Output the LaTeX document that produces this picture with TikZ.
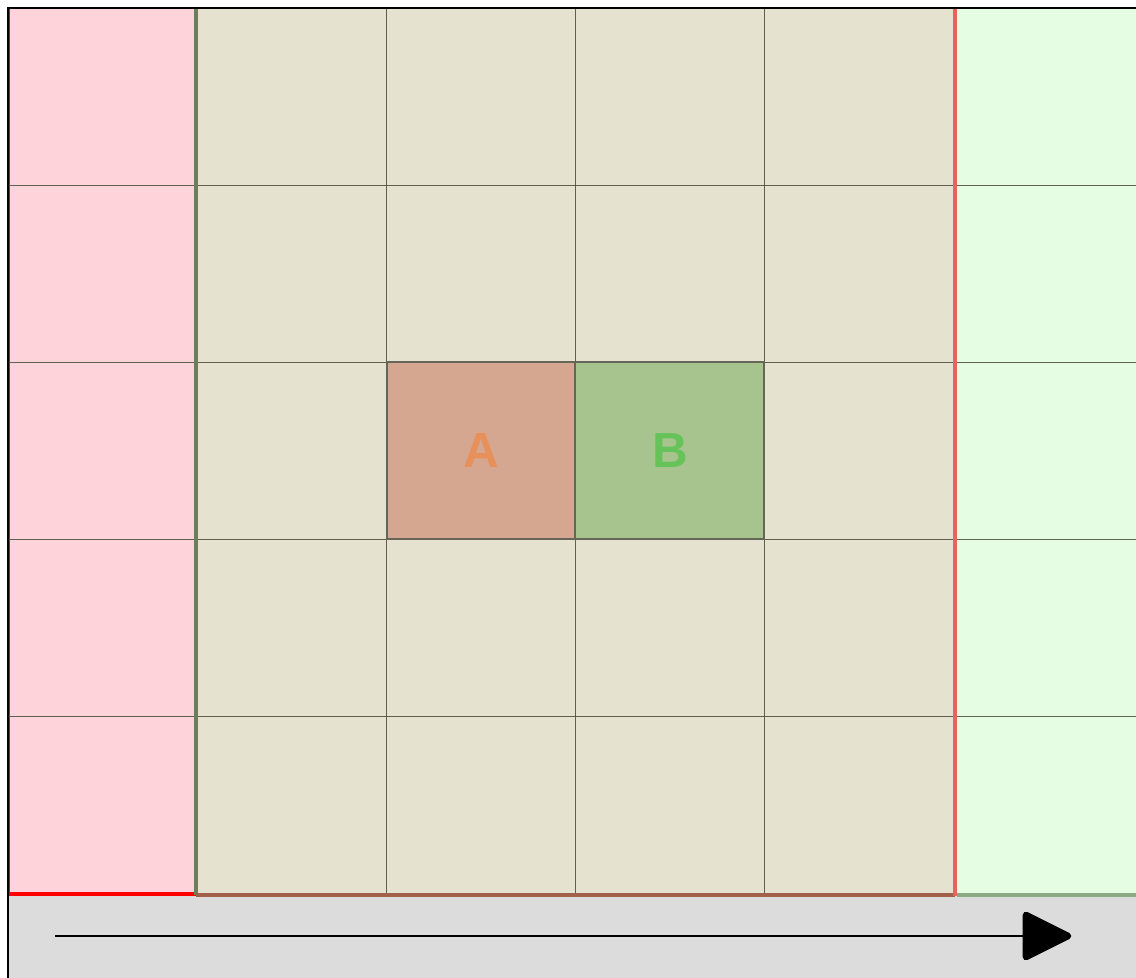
\documentclass[tikz,border=0pt]{standalone}
\usepackage{fontspec}
\setmainfont{Liberation Sans}
\definecolor{pinkbg}{HTML}{FFD3DA}
\definecolor{beigebg}{HTML}{E5E3CF}
\definecolor{greenbg}{HTML}{E5FDE3}
\definecolor{graybg}{HTML}{DCDCDC}
\definecolor{cellA}{HTML}{D5A690}
\definecolor{cellB}{HTML}{A8C48E}
\definecolor{txtA}{HTML}{E8905A}
\definecolor{txtB}{HTML}{66C35A}
\definecolor{gridc}{HTML}{4A4A3A}
\definecolor{borderred}{HTML}{E8645A}
\definecolor{bordergreen}{HTML}{6B7F5A}
\definecolor{borderbrown}{HTML}{A0604A}
\definecolor{bottomgreen}{HTML}{8CAA84}
\tikzset{
  gridline/.style={draw=gridc, line width=0.75pt, draw opacity=0.85},
  cellbox/.style={draw=gridc!85!white, line width=1.8pt},
  letter/.style={font=\bfseries\fontsize{37}{37}\selectfont},
}
\begin{document}
\begin{tikzpicture}[x=0.75pt,y=-0.75pt]
\useasboundingbox (0,0) rectangle (1136,978);
\fill[white] (0,0) rectangle (1136,978);
% regions
\fill[pinkbg] (8,8) rectangle (196,894);
\fill[beigebg] (196,8) rectangle (955,894);
\fill[greenbg] (955,8) rectangle (1136,894);
\fill[graybg] (8,896) rectangle (1136,978);
% cells A and B
\fill[cellA] (387,362) rectangle (575,539);
\fill[cellB] (575,362) rectangle (764,539);
% grid lines
\foreach \y in {185,362,539,716} \draw[gridline] (8,\y) -- (1136,\y);
\foreach \x in {386,575,764} \draw[gridline] (\x,8) -- (\x,894);
% cell borders
\draw[cellbox] (387,362) rectangle (575,539);
\draw[cellbox] (575,362) rectangle (764,539);
\node[letter, text=txtA] (A) at (481,451) {A};
\node[letter, text=txtB] (B) at (670,451) {B};
% region borders
\draw[red, line width=1.2pt] (9.5,9) -- (9.5,894);
\draw[red, line width=2.4pt] (8,894) -- (196,894);
\draw[bordergreen, line width=2.5pt] (196,8) -- (196,895);
\draw[borderbrown, line width=2.5pt] (196,895) -- (955,895);
\draw[borderred, line width=3pt] (955,8) -- (955,896);
\draw[bottomgreen, line width=2.5pt] (957,895) -- (1136,895);
% outer frame
\draw[black, line width=2.2pt] (8,978) -- (8,8) -- (1136,8);
% arrow
\coordinate (s) at (55,936);
\coordinate (e) at (1025,936);
\draw[black, line width=2pt] (s) -- (e);
\filldraw[black, line width=5pt, line join=round] (1026,915) -- (1068,936) -- (1026,957) -- cycle;
\end{tikzpicture}
\end{document}
